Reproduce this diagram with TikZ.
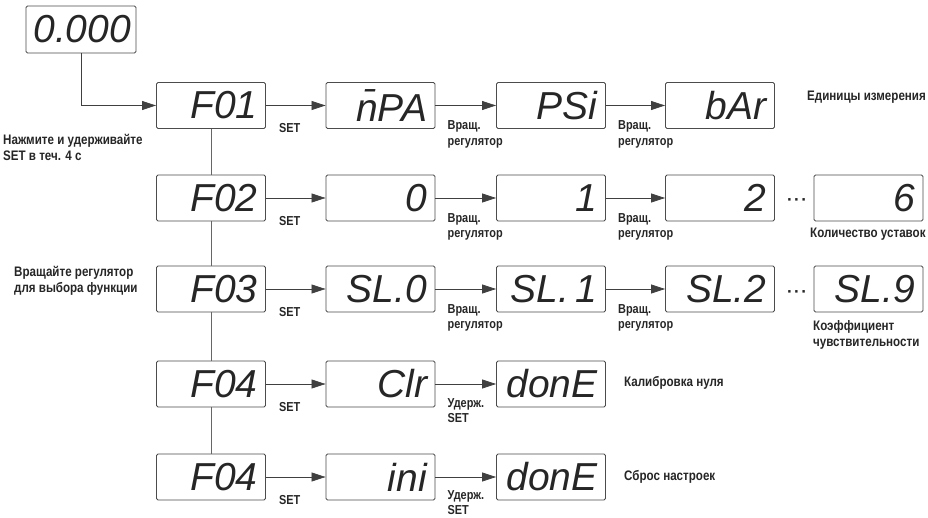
\documentclass[tikz,border=0pt]{standalone}
\usepackage{fontspec}
\setmainfont{Liberation Sans}
\newfontfamily\lab{Liberation Sans}[FakeStretch=0.84]
\usetikzlibrary{arrows.meta}
\begin{document}
\begin{tikzpicture}[x=1pt,y=-1pt,
 disp/.style={draw=black!70, line width=0.9pt, rounded corners=1.5pt,
   minimum width=109pt, minimum height=46pt, text width=93pt, align=right,
   inner xsep=8pt, inner ysep=0pt,
   font=\fontsize{39}{39}\selectfont\itshape, text=black!85},
 arr/.style={draw=black!75, line width=0.7pt, -{Triangle[length=14pt,width=9pt]}},
 vline/.style={draw=black!60, line width=0.7pt},
 lbl/.style={font=\lab\bfseries\fontsize{13}{15.5}\selectfont, align=left,
   inner sep=0pt, anchor=north west, text=black!85},
 side/.style={lbl, font=\lab\bfseries\fontsize{13.8}{16}\selectfont},
 dots/.style={font=\bfseries\fontsize{17}{17}\selectfont, inner sep=0pt, anchor=base, text=black!85},
]
\useasboundingbox (0,0) rectangle (928,518);
\fill[white] (0,0) rectangle (928,518);

% displays
\node[disp, inner xsep=5pt, text width=100pt, minimum width=110pt, minimum height=47pt] (z) at (81,29.5) {0.000};

\node[disp] (f1) at (211,105.5) {F01};
\node[disp] (a1) at (380.5,105.5) {\=nPA};
\node[disp] (a2) at (551,105.5) {PSi};
\node[disp] (a3) at (720,105.5) {bAr};

\node[disp] (f2) at (211,198) {F02};
\node[disp] (b1) at (380.5,198) {0};
\node[disp] (b2) at (551,198) {1};
\node[disp] (b3) at (720,198) {2};
\node[disp] (b4) at (868.5,198) {6};

\node[disp] (f3) at (211,289) {F03};
\node[disp] (c1) at (380.5,289) {SL.0};
\node[disp] (c2) at (551,289) {\mbox{SL.\,1}};
\node[disp] (c3) at (720,289) {SL.2};
\node[disp] (c4) at (868.5,289) {SL.9};

\node[disp] (f4) at (211,384) {F04};
\node[disp] (d1) at (380.5,384) {Clr};
\node[disp] (d2) at (551,384) {donE};

\node[disp] (f5) at (211,477) {F04};
\node[disp] (e1) at (380.5,477) {ini};
\node[disp] (e2) at (551,477) {donE};

% connectors
\draw[arr] (z.south) |- (f1.west);
\draw[vline] (f1) -- (f2);
\draw[vline] (f2) -- (f3);
\draw[vline] (f3) -- (f4);
\draw[vline] (f4) -- (f5);

\draw[arr] (f1) -- (a1);
\draw[arr] (a1) -- (a2);
\draw[arr] (a2) -- (a3);
\draw[arr] (f2) -- (b1);
\draw[arr] (b1) -- (b2);
\draw[arr] (b2) -- (b3);
\draw[arr] (f3) -- (c1);
\draw[arr] (c1) -- (c2);
\draw[arr] (c2) -- (c3);
\draw[arr] (f4) -- (d1);
\draw[arr] (d1) -- (d2);
\draw[arr] (f5) -- (e1);
\draw[arr] (e1) -- (e2);

% connector labels
\path (f1.east) ++(13,18) node[lbl] (s1) {SET};
\path (a1.east) ++(12,15) node[lbl] (v1) {Вращ.\\регулятор};
\path (a2.east) ++(12,15) node[lbl] (v2) {Вращ.\\регулятор};
\path (f2.east) ++(13,18) node[lbl] (s2) {SET};
\path (b1.east) ++(12,15) node[lbl] (v3) {Вращ.\\регулятор};
\path (b2.east) ++(12,15) node[lbl] (v4) {Вращ.\\регулятор};
\path (f3.east) ++(13,18) node[lbl] (s3) {SET};
\path (c1.east) ++(12,15) node[lbl] (v5) {Вращ.\\регулятор};
\path (c2.east) ++(12,15) node[lbl] (v6) {Вращ.\\регулятор};
\path (f4.east) ++(13,18) node[lbl] (s4) {SET};
\path (d1.east) ++(12,14) node[lbl] (h1) {Удерж.\\SET};
\path (f5.east) ++(13,18) node[lbl] (s5) {SET};
\path (e1.east) ++(12,13) node[lbl] (h2) {Удерж.\\SET};

% dots
\node[dots] (dd1) at (797,206) {·\hspace{1.5pt}·\hspace{1.5pt}·};
\node[dots] (dd2) at (797,298) {·\hspace{1.5pt}·\hspace{1.5pt}·};

% side texts
\node[side] (t1) at (3,134) {Нажмите и удерживайте\\SET в теч. 4 с};
\node[side] (t2) at (14,266) {Вращайте регулятор\\для выбора функции};
\node[side] (t3) at (807,91) {Единицы измерения};
\node[side] (t4) at (810,228) {Количество уставок};
\node[side] (t5) at (813,320) {Коэффициент\\чувствительности};
\node[side] (t6) at (624,376) {Калибровка нуля};
\node[side] (t7) at (624,470) {Сброс настроек};
\end{tikzpicture}
\end{document}
